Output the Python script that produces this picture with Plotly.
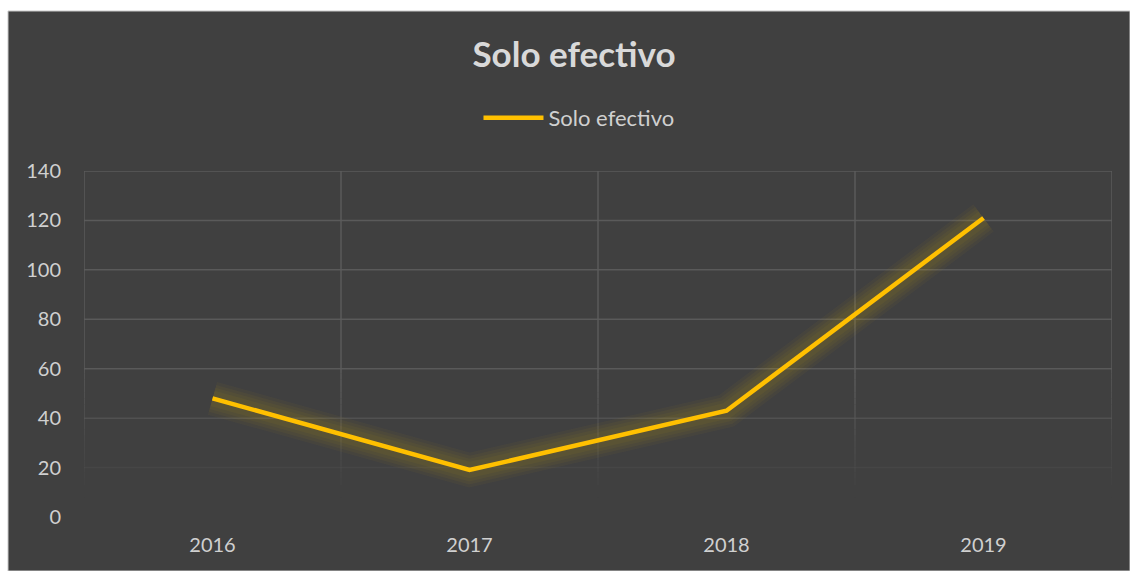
import plotly.graph_objects as go

# Data
years = ["2016", "2017", "2018", "2019"]
solo_efectivo = [48, 19, 43, 121]
y_ticks = [0, 20, 40, 60, 80, 100, 120, 140]

BG = "#404040"
GRID_RGB = (92, 92, 92)
TEXT = "#d0d0d0"
LINE = "#FFC000"
FONT = "Lato"

Y_MAX = 140
FADE_TOP = 58.0   # gridlines start fading below this value
FADE_BOTTOM = 8.0  # and are gone below this one


def grid_alpha(v):
    """Opacity of a gridline at data height v."""
    if v >= FADE_TOP:
        return 1.0
    if v <= FADE_BOTTOM:
        return 0.0
    return (v - FADE_BOTTOM) / (FADE_TOP - FADE_BOTTOM)


def grid_color(a):
    r, g, b = GRID_RGB
    return f"rgba({r},{g},{b},{a * 0.95:.3f})"


fig = go.Figure()

# soft glow under the main line
for w, a in [(34, 0.035), (28, 0.04), (22, 0.04), (16, 0.045)]:
    fig.add_trace(go.Scatter(
        x=years, y=solo_efectivo, mode="lines",
        line=dict(color=f"rgba(255,200,0,{a})", width=w),
        hoverinfo="skip", showlegend=False,
    ))

fig.add_trace(go.Scatter(
    x=years, y=solo_efectivo, mode="lines", name="Solo efectivo",
    line=dict(color=LINE, width=4.5),
))

shapes = [
    # dark chart panel over the white page
    dict(type="rect", xref="paper", yref="paper",
         x0=-76 / 1028, x1=1 + 18 / 1028, y0=-54 / 346, y1=1 + 160 / 346,
         fillcolor=BG, line=dict(color="#c8c8c8", width=1), layer="below"),
]

# horizontal gridlines
for v in y_ticks:
    a = grid_alpha(v)
    if a > 0:
        shapes.append(dict(type="line", xref="paper", yref="y",
                           x0=0, x1=1, y0=v, y1=v,
                           line=dict(color=grid_color(a), width=1.5),
                           layer="below"))

# vertical gridlines at category boundaries, fading toward the bottom
n_seg = 20
for b in [-0.5, 0.5, 1.5, 2.5, 3.5]:
    shapes.append(dict(type="line", xref="x", yref="y",
                       x0=b, x1=b, y0=FADE_TOP, y1=Y_MAX,
                       line=dict(color=grid_color(1.0), width=1.5),
                       layer="below"))
    step = (FADE_TOP - FADE_BOTTOM) / n_seg
    for i in range(n_seg):
        y0 = FADE_BOTTOM + i * step
        y1 = y0 + step
        a = grid_alpha((y0 + y1) / 2)
        shapes.append(dict(type="line", xref="x", yref="y",
                           x0=b, x1=b, y0=y0, y1=y1,
                           line=dict(color=grid_color(a), width=1.5),
                           layer="below"))

fig.update_layout(
    width=1130, height=571,
    margin=dict(l=84, r=18, t=171, b=54),
    paper_bgcolor="white",
    plot_bgcolor=BG,
    font=dict(family=FONT, color=TEXT, size=20),
    title=dict(text="<b>Solo efectivo</b>", x=0.508, xanchor="center",
               y=1 - 55 / 571, yanchor="middle",
               font=dict(family=FONT, size=35, color="#d9d9d9")),
    legend=dict(orientation="h", x=0.4815, xanchor="center",
                y=(517 - 118) / 346, yanchor="middle",
                itemwidth=60,
                font=dict(family=FONT, size=22, color=TEXT),
                bgcolor="rgba(0,0,0,0)"),
    shapes=shapes,
    xaxis=dict(type="category", range=[-0.5, 3.5],
               showgrid=False, showline=False, zeroline=False, ticks="",
               ticklabelstandoff=14,
               tickfont=dict(family=FONT, size=20, color=TEXT)),
    yaxis=dict(range=[0, Y_MAX], tickvals=y_ticks,
               showgrid=False, showline=False, zeroline=False, ticks="",
               ticklabelstandoff=22,
               tickfont=dict(family=FONT, size=20, color=TEXT)),
)

fig.write_html("out.html")
